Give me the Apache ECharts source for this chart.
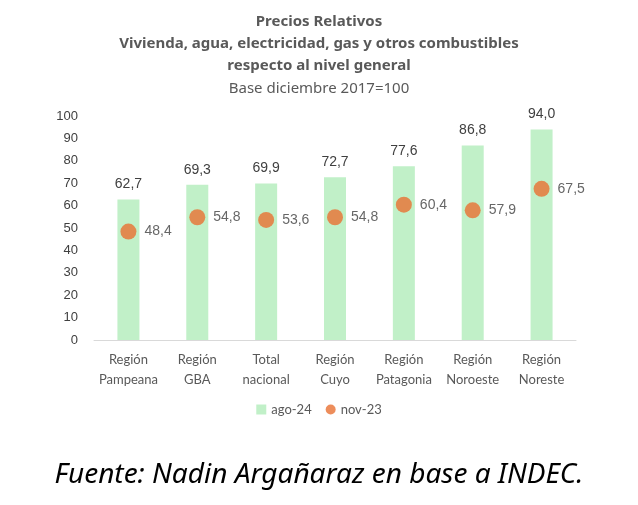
<!DOCTYPE html>
<html>
<head>
<meta charset="utf-8">
<script src="https://cdn.jsdelivr.net/npm/echarts@6/dist/echarts.min.js"></script>
<style>
  html, body { margin: 0; padding: 0; background: #fff; }
  #main { width: 638px; height: 505px; }
</style>
</head>
<body>
<div id="main"></div>
<script>
// datos del grafico
var categorias = ['Región\nPampeana', 'Región\nGBA', 'Total\nnacional', 'Región\nCuyo', 'Región\nPatagonia', 'Región\nNoroeste', 'Región\nNoreste'];
var ago24 = [62.7, 69.3, 69.9, 72.7, 77.6, 86.8, 94.0];
var nov23 = [48.4, 54.8, 53.6, 54.8, 60.4, 57.9, 67.5];
var ticksY = [0, 10, 20, 30, 40, 50, 60, 70, 80, 90, 100];

function coma(v) { return v.toFixed(1).replace('.', ','); }

var chart = echarts.init(document.getElementById('main'));
var fuente = 'Lato, "Open Sans", sans-serif';
var fuenteTit = '"Noto Sans", sans-serif';
var fuenteNum = '"Liberation Sans", Arial, sans-serif';
var option = {
    backgroundColor: '#fff',
    textStyle: { fontFamily: fuente },
    title: [
        {
            text: 'Precios Relativos\nVivienda, agua, electricidad, gas y otros combustibles\nrespecto al nivel general',
            left: 'center', top: 6,
            textStyle: { fontSize: 15, fontWeight: 'bold', color: '#595959', lineHeight: 22, fontFamily: fuenteTit }
        },
        {
            text: 'Base diciembre 2017=100',
            left: 'center', top: 76,
            textStyle: { fontSize: 15, fontWeight: 'normal', color: '#595959', fontFamily: fuenteTit }
        },
        {
            text: 'Fuente: Nadin Argañaraz en base a INDEC.',
            left: 'center', top: 456,
            textStyle: { fontSize: 28, fontWeight: 'normal', fontStyle: 'italic', color: '#000', fontFamily: fuenteTit }
        }
    ],
    legend: {
        bottom: 84,
        left: 'center',
        itemWidth: 10, itemHeight: 10, itemGap: 14,
        textStyle: { fontSize: 13, color: '#595959' },
        data: [
            { name: 'ago-24', icon: 'rect' },
            { name: 'nov-23', icon: 'circle' }
        ]
    },
    grid: { left: 94, right: 62, top: 116, bottom: 165 },
    xAxis: {
        type: 'category',
        data: categorias,
        axisLine: { lineStyle: { color: '#d9d9d9' } },
        axisTick: { show: false },
        axisLabel: { fontSize: 13, color: '#595959', lineHeight: 20, margin: 10, interval: 0 }
    },
    yAxis: {
        type: 'value',
        min: ticksY[0], max: ticksY[ticksY.length - 1], interval: 10,
        splitLine: { show: false },
        axisLine: { show: false },
        axisTick: { show: false },
        axisLabel: { fontSize: 13, color: '#404040', margin: 16, fontFamily: fuenteNum }
    },
    series: [
        {
            name: 'ago-24',
            type: 'bar',
            data: ago24,
            barWidth: 22,
            itemStyle: { color: '#C1F0C8' },
            label: {
                show: true, position: 'top', distance: 8,
                fontSize: 14, color: '#404040', fontFamily: fuenteNum,
                formatter: function (p) { return coma(p.value); }
            }
        },
        {
            name: 'nov-23',
            type: 'scatter',
            data: nov23,
            symbolSize: 16,
            itemStyle: { color: '#E97132' },
            label: {
                show: true, position: 'right', distance: 8,
                fontSize: 14, color: '#404040', fontFamily: fuenteNum,
                formatter: function (p) { return coma(p.value); }
            }
        }
    ]
};
chart.setOption(option);
</script>
</body>
</html>
